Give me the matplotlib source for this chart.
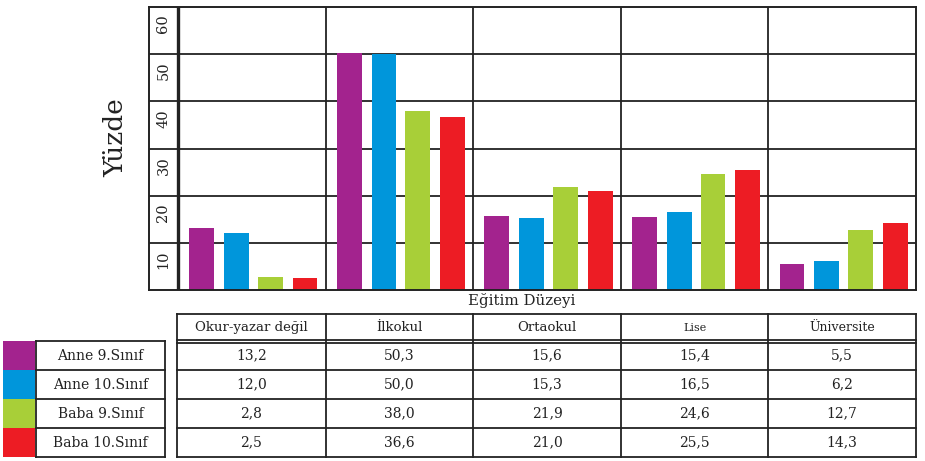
import matplotlib
matplotlib.use("Agg")
import matplotlib.pyplot as plt
from matplotlib.patches import Rectangle
from matplotlib.lines import Line2D

categories = ["Okur-yazar değil", "İlkokul", "Ortaokul", "Lise", "Üniversite"]
series_names = ["Anne 9.Sınıf", "Anne 10.Sınıf", "Baba 9.Sınıf", "Baba 10.Sınıf"]
anne9 = [13.2, 50.3, 15.6, 15.4, 5.5]
anne10 = [12.0, 50.0, 15.3, 16.5, 6.2]
baba9 = [2.8, 38.0, 21.9, 24.6, 12.7]
baba10 = [2.5, 36.6, 21.0, 25.5, 14.3]
yticks = [10, 20, 30, 40, 50, 60]
colors = ["#A3238E", "#0096DB", "#A8CF38", "#ED1C24"]

series = [anne9, anne10, baba9, baba10]
FONT = "DejaVu Serif"
W, H = 925, 461
fig = plt.figure(figsize=(W / 100, H / 100), dpi=100)

# main chart axes: pixel box x 149..916, y 7..290
px_l, px_r, px_t, px_b = 149, 916, 7, 290
ax = fig.add_axes([px_l / W, 1 - px_b / H, (px_r - px_l) / W, (px_b - px_t) / H])
cat_px = (916 - 178) / 5.0
extra = (178 - 149) / cat_px
ax.set_xlim(-0.5 - extra, 4.5)
ax.set_ylim(0, 60)
ax.set_xticks([])
ax.set_yticks([])
for s in ax.spines.values():
    s.set_color("#222222")
    s.set_linewidth(1.4)

for y in yticks[:-1]:
    ax.axhline(y, color="#222222", lw=1.3, zorder=1)
for i in range(1, 5):
    ax.axvline(i - 0.5, color="#222222", lw=1.3, zorder=1)
ax.axvline(-0.5, color="#222222", lw=2.4, zorder=3)

offsets = [-0.34, -0.105, 0.125, 0.36]
bw = 0.168
for k, vals in enumerate(series):
    ax.bar([i + offsets[k] for i in range(len(categories))], vals, width=bw,
           color=colors[k], zorder=2)

for y in yticks:
    ax.text(-0.5 - extra / 2, y - 3.6, str(y), rotation=90, ha="center", va="center",
            fontsize=10.5, family=FONT, color="#222222")

fig.text(116 / W, 1 - 138 / H, "Yüzde", rotation=90, ha="center", va="center",
         fontsize=19, family=FONT, color="#222222")
fig.text(522 / W, 1 - 301 / H, "Eğitim Düzeyi", ha="center", va="center",
         fontsize=10.8, family=FONT, color="#222222")

# table overlay in pixel coordinates
tx = fig.add_axes([0, 0, 1, 1])
tx.set_xlim(0, W)
tx.set_ylim(H, 0)
tx.axis("off")
lc = "#222222"
col_edges = [178 + i * cat_px for i in range(6)]
col_edges[0] = 177
hdr_top, hdr_bot = 314, 341
row_edges = [341, 370, 399, 428, 457]

def hl(y, x0, x1, lw=1.3):
    tx.add_line(Line2D([x0, x1], [y, y], color=lc, lw=lw))

def vl(x, y0, y1, lw=1.3):
    tx.add_line(Line2D([x, x], [y0, y1], color=lc, lw=lw))

hl(hdr_top, col_edges[0], col_edges[-1])
hl(hdr_bot - 1.5, col_edges[0], col_edges[-1])
hl(hdr_bot + 1.5, col_edges[0], col_edges[-1])
for y in row_edges[1:]:
    hl(y, col_edges[0], col_edges[-1])
for x in col_edges:
    vl(x, hdr_top, row_edges[-1])

hdr_sizes = [9.5, 9.5, 9.5, 8, 9]
for i, c in enumerate(categories):
    tx.text((col_edges[i] + col_edges[i + 1]) / 2, (hdr_top + hdr_bot) / 2, c,
            ha="center", va="center", fontsize=hdr_sizes[i], family=FONT, color=lc)

for r, vals in enumerate(series):
    yc = (row_edges[r] + row_edges[r + 1]) / 2
    for i, v in enumerate(vals):
        tx.text((col_edges[i] + col_edges[i + 1]) / 2, yc, f"{v:.1f}".replace(".", ","),
                ha="center", va="center", fontsize=10, family=FONT, color=lc)
    # swatch and label
    tx.add_patch(Rectangle((3, row_edges[r]), 32, row_edges[r + 1] - row_edges[r],
                           color=colors[r], lw=0))
    tx.text((36 + 165) / 2, yc, series_names[r], ha="center", va="center",
            fontsize=10, family=FONT, color=lc)

for y in row_edges:
    hl(y, 36, 165)
vl(36, row_edges[0], row_edges[-1])
vl(165, row_edges[0], row_edges[-1])

fig.savefig("out.png", dpi=100)
